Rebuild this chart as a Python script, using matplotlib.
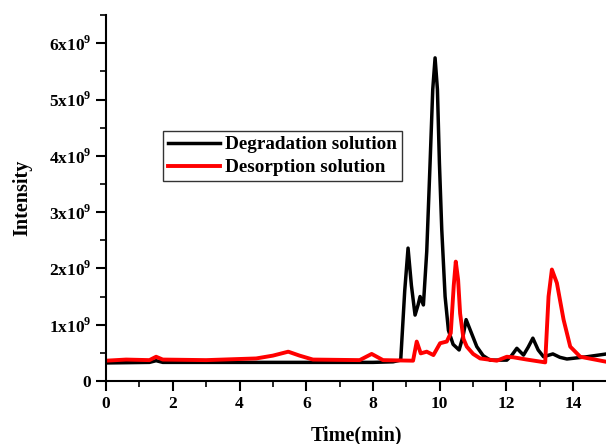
import numpy as np
import matplotlib.pyplot as plt
from matplotlib.ticker import FuncFormatter, MultipleLocator

plt.rcParams['font.family'] = ['Liberation Serif', 'DejaVu Serif']
plt.rcParams['font.weight'] = 'bold'
plt.rcParams['mathtext.fontset'] = 'custom'
plt.rcParams['mathtext.rm'] = 'Liberation Serif:bold'
plt.rcParams['mathtext.bf'] = 'Liberation Serif:bold'

# Degradation solution (black), time in min, intensity in 1e9
t_deg = [0, 1.3, 1.5, 1.7, 4, 6, 8, 8.6, 8.83, 8.95, 9.05, 9.15, 9.26, 9.35, 9.41, 9.51,
         9.61, 9.71, 9.79, 9.86, 9.93, 9.99, 10.06, 10.16, 10.26, 10.4, 10.58, 10.7, 10.79, 10.95,
         11.11, 11.3, 11.51, 12.01, 12.15, 12.31, 12.51, 12.65, 12.79, 12.95, 13.11, 13.39,
         13.6, 13.81, 14.41, 15]
i_deg = [0.32, 0.33, 0.36, 0.33, 0.33, 0.33, 0.33, 0.34, 0.37, 1.6, 2.36, 1.7, 1.17, 1.35, 1.5, 1.35,
         2.3, 3.87, 5.18, 5.74, 5.18, 3.87, 2.69, 1.5, 0.9, 0.65, 0.55, 0.8, 1.09, 0.85,
         0.61, 0.45, 0.37, 0.37, 0.45, 0.58, 0.46, 0.6, 0.76, 0.55, 0.43, 0.48,
         0.42, 0.39, 0.43, 0.48]

# Desorption solution (red)
t_des = [0, 0.6, 1.3, 1.5, 1.7, 3, 4.5, 5.0, 5.46, 5.8, 6.2, 7.6, 7.96, 8.3, 9.2, 9.31,
         9.43, 9.61, 9.81, 10.01, 10.21, 10.33, 10.42, 10.48, 10.55, 10.61, 10.71, 10.81, 11.0,
         11.21, 11.71, 12.01, 12.21, 12.61, 13.16, 13.26, 13.36, 13.51, 13.71, 13.91,
         14.21, 15]
i_des = [0.36, 0.38, 0.37, 0.43, 0.38, 0.37, 0.4, 0.45, 0.52, 0.45, 0.38, 0.37, 0.48, 0.37, 0.36, 0.7,
         0.49, 0.52, 0.46, 0.67, 0.7, 0.85, 1.7, 2.12, 1.8, 1.2, 0.75, 0.61, 0.48,
         0.4, 0.36, 0.43, 0.42, 0.38, 0.33, 1.5, 1.98, 1.74, 1.09, 0.61,
         0.43, 0.34]

fig = plt.figure(figsize=(6.06, 4.44), dpi=100)
ax = fig.add_axes([0.175, 0.142, 0.826, 0.824])

ax.plot(t_deg, np.array(i_deg) * 1e9, color='black', lw=2.5, label='Degradation solution')
ax.plot(t_des, np.array(i_des) * 1e9, color='red', lw=2.8, label='Desorption solution')

ax.set_xlim(0, 15)
ax.set_ylim(0, 6.5e9)
ax.xaxis.set_major_locator(MultipleLocator(2))
ax.xaxis.set_minor_locator(MultipleLocator(1))
ax.yaxis.set_major_locator(MultipleLocator(1e9))
ax.yaxis.set_minor_locator(MultipleLocator(0.5e9))

def yfmt(v, pos):
    n = int(round(v / 1e9))
    if n == 0:
        return '0'
    return f'{n}x10$^{{9}}$'

ax.yaxis.set_major_formatter(FuncFormatter(yfmt))

for s in ['top', 'right']:
    ax.spines[s].set_visible(False)
for s in ['left', 'bottom']:
    ax.spines[s].set_linewidth(1.5)
ax.tick_params(which='major', direction='out', length=7, width=1.5, labelsize=12.5)
ax.tick_params(which='minor', direction='out', length=4, width=1.2)

ax.set_xlabel('Time(min)', fontsize=14.5, fontweight='bold', labelpad=10)
ax.set_ylabel('Intensity', fontsize=14.5, fontweight='bold', labelpad=12)

leg = ax.legend(loc='upper left', bbox_to_anchor=(0.114, 0.683), fontsize=13.8,
                frameon=True, fancybox=False, edgecolor='black', handlelength=2.7,
                borderpad=0.25, labelspacing=0.3, handletextpad=0.3, borderaxespad=0)
leg.get_frame().set_linewidth(1)

fig.savefig('out.png', dpi=100)
